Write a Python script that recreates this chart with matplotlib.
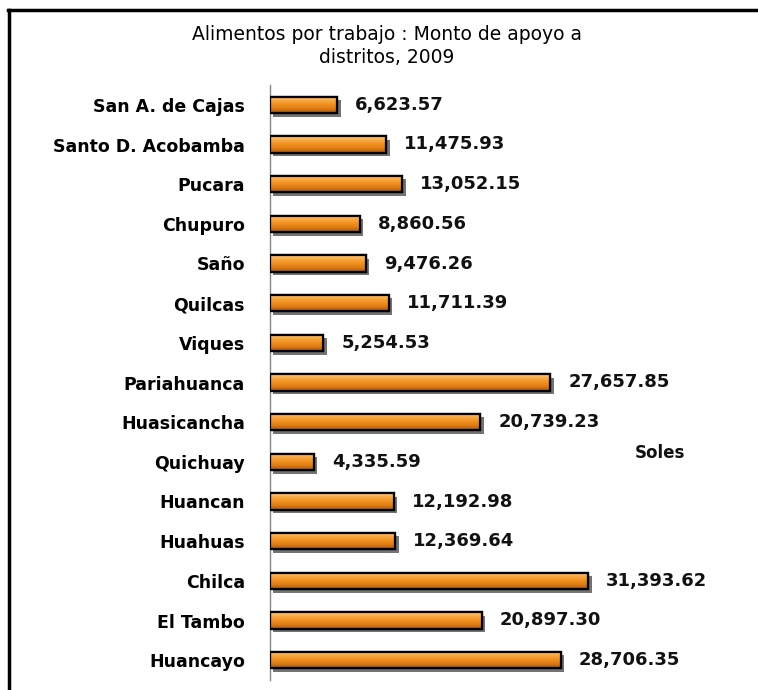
import matplotlib.pyplot as plt
import matplotlib.patheffects as pe
from matplotlib.lines import Line2D
from matplotlib.colors import LinearSegmentedColormap
import numpy as np

districts = ["San A. de Cajas", "Santo D. Acobamba", "Pucara", "Chupuro", "Saño",
             "Quilcas", "Viques", "Pariahuanca", "Huasicancha", "Quichuay",
             "Huancan", "Huahuas", "Chilca", "El Tambo", "Huancayo"]
amounts = [6623.57, 11475.93, 13052.15, 8860.56, 9476.26,
           11711.39, 5254.53, 27657.85, 20739.23, 4335.59,
           12192.98, 12369.64, 31393.62, 20897.30, 28706.35]

W, H = 758, 690
fig = plt.figure(figsize=(W / 100, H / 100), dpi=100)
ax = fig.add_axes([270 / W, 1 - 680 / H, (736 - 270) / W, (680 - 85) / H])

y = np.arange(len(districts))
bars = ax.barh(y, amounts, height=0.42, color="#F39A2A", edgecolor="black",
               linewidth=1.6, zorder=2)

grad = LinearSegmentedColormap.from_list(
    "orange", ["#FCCB82", "#F7A844", "#F0901F", "#DD7A12", "#A8550A"])
g = np.linspace(0, 1, 64).reshape(-1, 1)
for b in bars:
    b.set_path_effects([pe.SimplePatchShadow(offset=(2.5, -2.5), shadow_rgbFace="black", alpha=0.55),
                        pe.Normal()])
    x0, y0 = b.get_x(), b.get_y()
    im = ax.imshow(g, cmap=grad, aspect="auto", zorder=2.5,
                   extent=[x0, x0 + b.get_width(), y0 + b.get_height(), y0])
    im.set_clip_path(b)
# edges on top of the gradient
ax.barh(y, amounts, height=0.42, color="none", edgecolor="black", linewidth=1.6, zorder=3)

for yi, v in zip(y, amounts):
    ax.annotate(f"{v:,.2f}", (v, yi), xytext=(13, 0), textcoords="offset points",
                va="center", ha="left", fontsize=13, fontweight="bold", color="#111111")

ax.set_xlim(0, 46000)
ax.set_ylim(len(districts) - 0.5, -0.5)
ax.set_yticks(y)
ax.set_yticklabels(districts, fontsize=12.5, fontweight="bold")
ax.tick_params(axis="y", length=0, pad=18)
ax.set_xticks([])
for s in ["top", "right", "bottom"]:
    ax.spines[s].set_visible(False)
ax.spines["left"].set_color("#888888")
ax.spines["left"].set_linewidth(1)
ax.patch.set_alpha(0)

fig.text(387 / W, 1 - 46 / H, "Alimentos por trabajo : Monto de apoyo a\ndistritos, 2009",
         ha="center", va="center", fontsize=13.5, linespacing=1.25)
fig.text(660 / W, 1 - 453 / H, "Soles", ha="center", va="center", fontsize=12,
         fontweight="bold", color="#111111")

fig.add_artist(Line2D([8 / W, 1], [1 - 10 / H, 1 - 10 / H], color="black", lw=2.5))
fig.add_artist(Line2D([9 / W, 9 / W], [0, 1 - 10 / H], color="black", lw=2.5))

fig.savefig("out.png", dpi=100)
